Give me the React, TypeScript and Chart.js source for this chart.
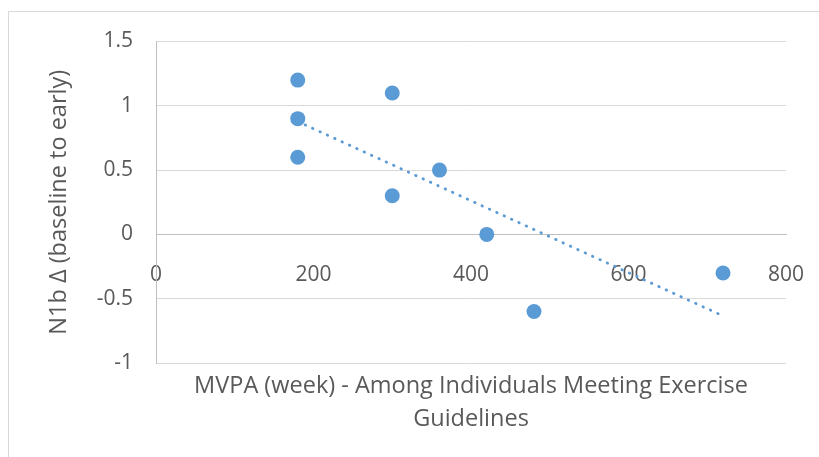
import React, { useEffect, useRef } from "react";
import { Chart, registerables } from "chart.js";

Chart.register(...registerables);

// ---- data ----
const mvpaMinutes = [180, 180, 180, 300, 300, 360, 420, 480, 720];
const n1bChange = [1.2, 0.9, 0.6, 1.1, 0.3, 0.5, 0, -0.6, -0.3];
const xTickValues = [0, 200, 400, 600, 800];
const yTickValues = [-1, -0.5, 0, 0.5, 1, 1.5];
const xTitleLines = ["MVPA (week) - Among Individuals Meeting Exercise", "Guidelines"];
const yTitleText = "N1b Δ (baseline to early)";

// linear least-squares trendline (Excel "Linear" trendline) from the data
function linearFit(xs: number[], ys: number[]) {
  const n = xs.length;
  const mx = xs.reduce((a, b) => a + b, 0) / n;
  const my = ys.reduce((a, b) => a + b, 0) / n;
  let sxy = 0;
  let sxx = 0;
  for (let i = 0; i < n; i++) {
    sxy += (xs[i] - mx) * (ys[i] - my);
    sxx += (xs[i] - mx) * (xs[i] - mx);
  }
  const slope = sxy / sxx;
  const intercept = my - slope * mx;
  return (x: number) => intercept + slope * x;
}

const FONT = "'Open Sans', 'Noto Sans', sans-serif";
const TEXT = "#595959";
const BLUE = "#5b9bd5";

export default function App() {
  const ref = useRef<HTMLCanvasElement | null>(null);

  useEffect(() => {
    if (!ref.current) return;
    const fit = linearFit(mvpaMinutes, n1bChange);
    const xMin = Math.min(...mvpaMinutes);
    const xMax = Math.max(...mvpaMinutes);
    const points = mvpaMinutes.map((x, i) => ({ x, y: n1bChange[i] }));
    const trend = [
      { x: xMin, y: fit(xMin) },
      { x: xMax, y: fit(xMax) },
    ];

    const chart = new Chart(ref.current, {
      type: "scatter",
      data: {
        datasets: [
          {
            label: "N1b",
            data: points,
            backgroundColor: BLUE,
            borderColor: BLUE,
            borderWidth: 0,
            pointRadius: 7.5,
            order: 0,
          },
          {
            type: "line",
            label: "Linear trend",
            data: trend,
            borderColor: BLUE,
            borderWidth: 2.8,
            borderDash: [0.5, 7.6],
            borderCapStyle: "round",
            pointRadius: 0,
            fill: false,
            order: 1,
          } as any,
        ],
      },
      options: {
        responsive: false,
        animation: false,
        layout: { padding: { left: 20, top: 41.5, right: 33, bottom: 0 } },
        plugins: {
          legend: { display: false },
          tooltip: { enabled: false },
          title: {
            display: true,
            position: "bottom",
            fullSize: false,
            text: xTitleLines,
            color: TEXT,
            font: { family: FONT, size: 23.5, weight: "normal", lineHeight: 33 / 23.5 },
            padding: { top: 7, bottom: 21 },
          },
        },
        scales: {
          x: {
            type: "linear",
            min: 0,
            max: 800,
            position: { y: 0 } as any,
            afterBuildTicks: (s: any) => {
              s.ticks = xTickValues.map((v) => ({ value: v }));
            },
            afterFit: (s: any) => {
              s.paddingLeft = 0;
              s.paddingRight = 0;
            },
            ticks: {
              color: TEXT,
              font: { family: FONT, size: 21 },
              padding: 28,
              maxRotation: 0,
              callback: (v: any) => String(v),
            },
            grid: { display: false, drawTicks: false },
            border: { display: true, color: "#bfbfbf", width: 1 },
          },
          y: {
            type: "linear",
            min: -1,
            max: 1.5,
            afterBuildTicks: (s: any) => {
              s.ticks = yTickValues.map((v) => ({ value: v }));
            },
            afterFit: (s: any) => {
              s.width = 136;
            },
            ticks: {
              color: TEXT,
              font: { family: FONT, size: 21 },
              padding: 23,
              callback: (v: any) => String(v),
            },
            grid: {
              color: (c: any) => (c.tick && c.tick.value === 0 ? "#bfbfbf" : "#d9d9d9"),
              lineWidth: 1,
              drawTicks: false,
            },
            border: { display: true, color: "#bfbfbf", width: 1 },
            title: {
              display: true,
              text: yTitleText,
              color: TEXT,
              font: { family: FONT, size: 23.5, lineHeight: 1.2 },
              padding: { top: 25, bottom: 0 },
            },
          },
        },
      },
    });
    return () => chart.destroy();
  }, []);

  return (
    <div style={{ position: "fixed", left: 0, top: 0, width: 819, height: 457, overflow: "hidden", background: "#fff" }}>
      <div
        style={{
          position: "absolute",
          left: 8,
          top: 11,
          width: 900,
          height: 600,
          border: "1px solid #d9d9d9",
          boxSizing: "border-box",
        }}
      />
      <canvas
        ref={ref}
        width={819}
        height={457}
        style={{ position: "absolute", left: 0, top: 0, width: 819, height: 457 }}
      />
    </div>
  );
}
